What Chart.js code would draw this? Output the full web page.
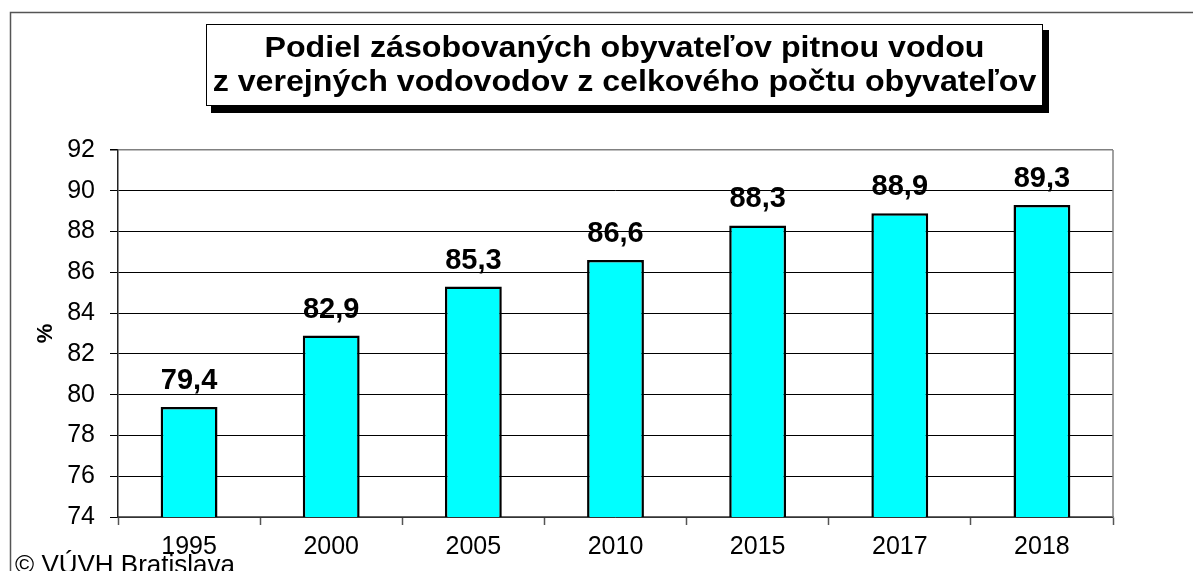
<!DOCTYPE html>
<html lang="sk">
<head>
    <meta charset="UTF-8">
    <title>Podiel zásobovaných obyvateľov pitnou vodou</title>
    <script src="https://cdn.jsdelivr.net/npm/chart.js"></script>
    <style>
        html, body { margin: 0; padding: 0; background: #fff; }
        #wrap { width: 1193px; height: 571px; }
    </style>
</head>
<body>
    <div id="wrap"><canvas id="chart" width="1193" height="571"></canvas></div>

    <script>
        // data
        const years = ['1995', '2000', '2005', '2010', '2015', '2017', '2018'];
        const shares = [79.4, 82.9, 85.3, 86.6, 88.3, 88.9, 89.3];
        const yTicks = [74, 76, 78, 80, 82, 84, 86, 88, 90, 92];
        const titleLines = ['Podiel zásobovaných obyvateľov pitnou vodou', 'z verejných vodovodov z celkového počtu obyvateľov'];
        const yTitle = '%';
        const footer = '© VÚVH Bratislava';

        const FONT = 'Arial, "Liberation Sans", sans-serif';

        // frame, title box, right border, value labels, footer
        const decorations = {
            id: 'decorations',
            beforeDraw(chart) {
                const ctx = chart.ctx;
                ctx.save();
                ctx.fillStyle = '#fff';
                ctx.fillRect(0, 0, chart.width, chart.height);
                ctx.strokeStyle = '#555';
                ctx.lineWidth = 1.5;
                ctx.strokeRect(10.5, 12.5, chart.width + 20, chart.height + 20);
                ctx.restore();
            },
            afterDatasetsDraw(chart) {
                const ctx = chart.ctx;
                const area = chart.chartArea;
                ctx.save();
                // grey plot border on the right
                ctx.strokeStyle = '#808080';
                ctx.lineWidth = 1.5;
                ctx.beginPath();
                ctx.moveTo(area.right, area.top);
                ctx.lineTo(area.right, area.bottom);
                ctx.stroke();

                // values above bars
                ctx.fillStyle = '#000';
                ctx.font = 'bold 29px ' + FONT;
                ctx.textAlign = 'center';
                ctx.textBaseline = 'alphabetic';
                chart.getDatasetMeta(0).data.forEach((bar, i) => {
                    ctx.fillText(shares[i].toFixed(1).replace('.', ','), bar.x, bar.y - 18);
                });
                ctx.restore();
            },
            afterDraw(chart) {
                const ctx = chart.ctx;
                ctx.save();
                // title box with shadow
                ctx.fillStyle = '#000';
                ctx.fillRect(211, 30, 838, 83);
                ctx.fillStyle = '#fff';
                ctx.fillRect(206, 24, 837, 82);
                ctx.strokeStyle = '#000';
                ctx.lineWidth = 1;
                ctx.strokeRect(206.5, 24.5, 836, 81);

                // the original title font is a bit wider than Arial, so stretch it
                ctx.fillStyle = '#000';
                ctx.font = 'bold 29px ' + FONT;
                ctx.textAlign = 'center';
                ctx.textBaseline = 'alphabetic';
                const sx = 720 / ctx.measureText(titleLines[0]).width;
                ctx.save();
                ctx.translate(624.5, 0);
                ctx.scale(sx, 1);
                ctx.fillText(titleLines[0], 0, 57);
                ctx.fillText(titleLines[1], 0, 91);
                ctx.restore();

                // footer, cut by the bottom edge like in the original
                ctx.font = '26px ' + FONT;
                ctx.textAlign = 'left';
                ctx.fillText(footer, 15, 573);
                ctx.restore();
            }
        };

        new Chart(document.getElementById('chart').getContext('2d'), {
            type: 'bar',
            data: {
                labels: years,
                datasets: [{
                    data: shares,
                    backgroundColor: '#00FFFF',
                    borderColor: '#000',
                    borderWidth: 2.5,
                    borderSkipped: false,
                    barPercentage: 0.4,
                    categoryPercentage: 1.0
                }]
            },
            options: {
                responsive: false,
                animation: false,
                layout: { padding: { top: 150, right: 80, left: 0, bottom: 0 } },
                plugins: {
                    legend: { display: false },
                    tooltip: { enabled: false }
                },
                scales: {
                    x: {
                        offset: true,
                        afterFit: (scale) => { scale.height = 54; },
                        grid: {
                            offset: true,
                            drawOnChartArea: false,
                            tickLength: 8,
                            tickColor: '#555',
                            tickWidth: 1.5
                        },
                        border: { color: '#666', width: 1.5 },
                        ticks: {
                            color: '#000',
                            font: { family: FONT, size: 25 },
                            padding: 7,
                            maxRotation: 0
                        }
                    },
                    y: {
                        min: 74,
                        max: 92,
                        afterFit: (scale) => { scale.width = 118; },
                        afterBuildTicks: (scale) => { scale.ticks = yTicks.map(v => ({ value: v })); },
                        grid: {
                            color: (c) => (c.tick && c.tick.value === 92) ? '#808080' : '#000',
                            lineWidth: (c) => (c.tick && c.tick.value === 92) ? 1.5 : 1,
                            tickLength: 8,
                            tickColor: '#000'
                        },
                        border: { color: '#222', width: 1.5 },
                        ticks: {
                            color: '#000',
                            font: { family: FONT, size: 25 },
                            padding: 15
                        },
                        title: {
                            display: true,
                            text: yTitle,
                            color: '#000',
                            font: { family: FONT, size: 22, weight: 'bold' },
                            padding: { top: 33 }
                        }
                    }
                }
            },
            plugins: [decorations]
        });
    </script>
</body>
</html>
